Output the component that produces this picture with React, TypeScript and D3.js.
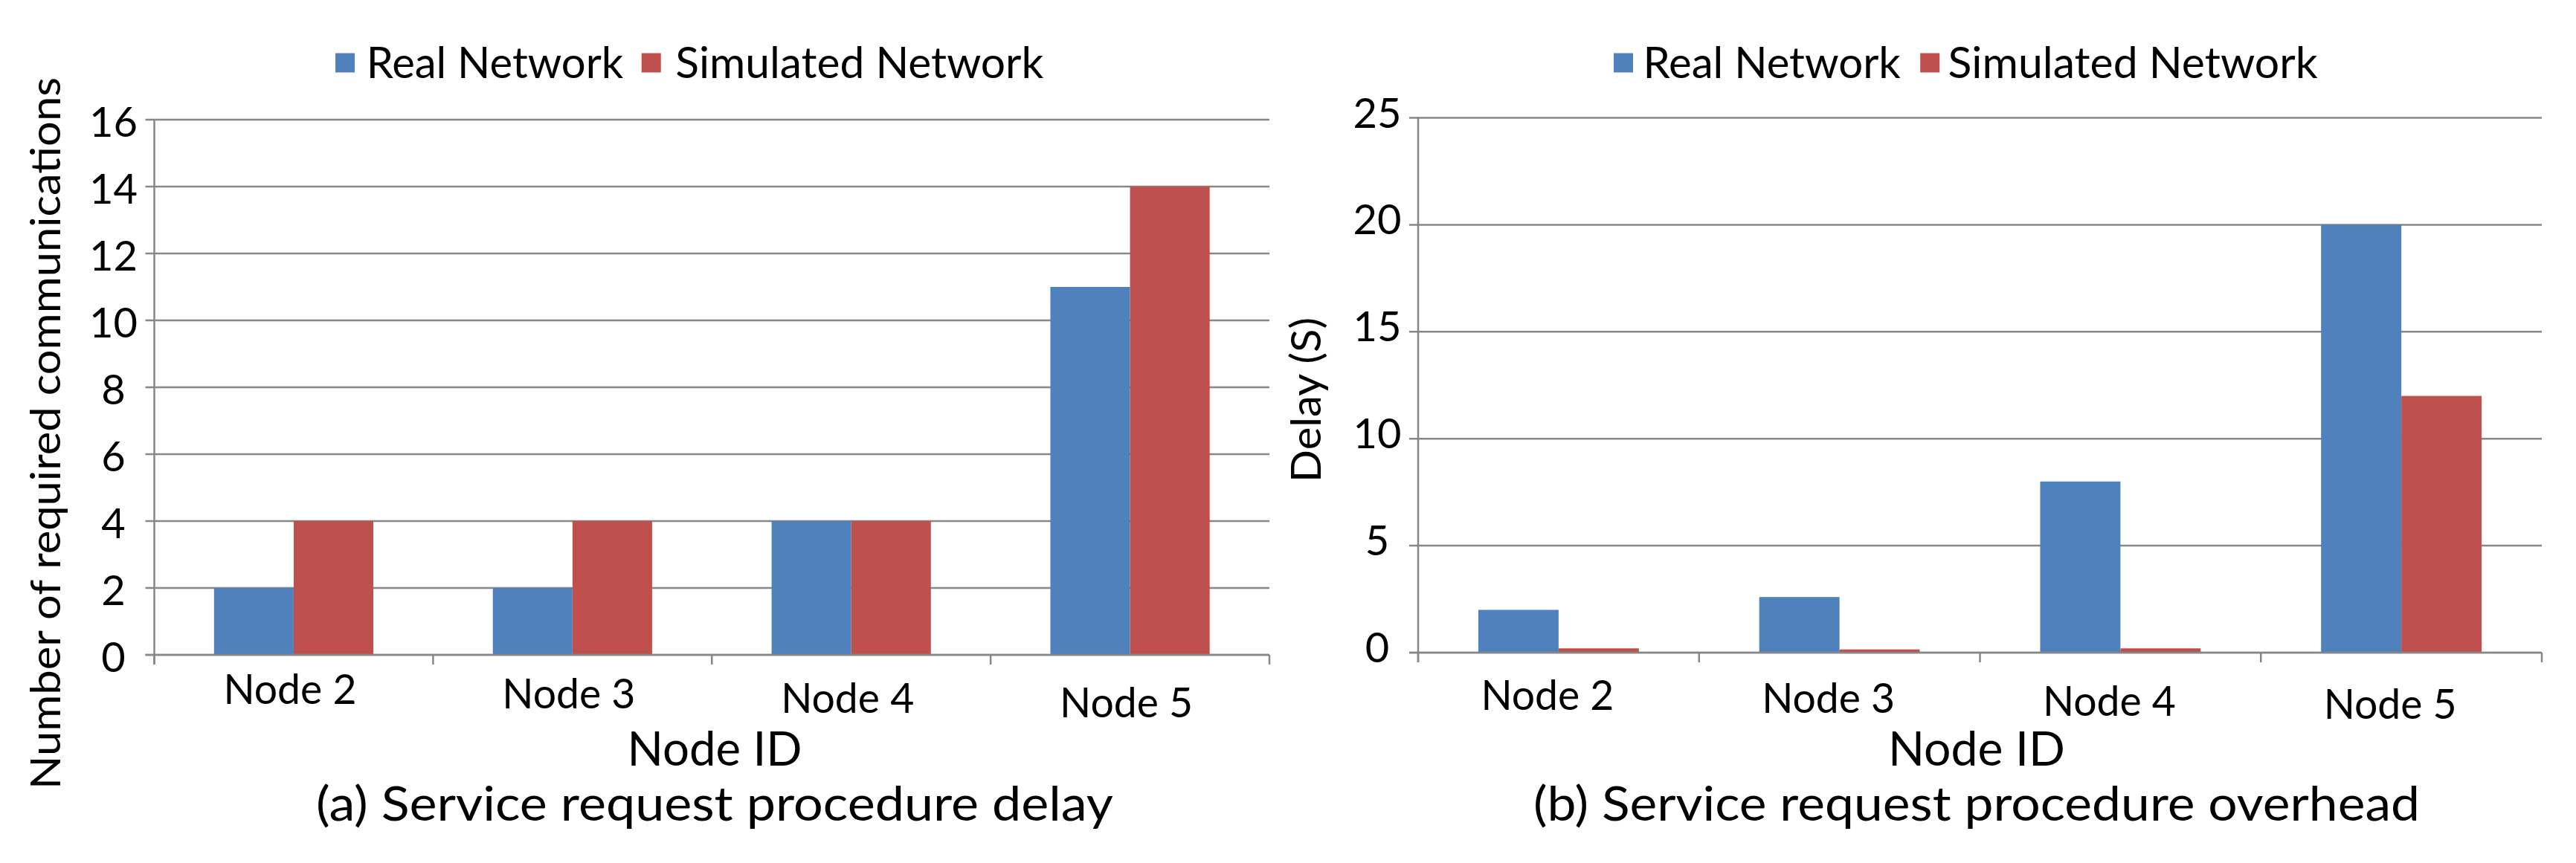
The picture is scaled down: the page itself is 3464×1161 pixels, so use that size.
import React from "react";
import * as d3 from "d3";

const nodes = ["Node 2", "Node 3", "Node 4", "Node 5"];
const seriesNames = ["Real Network", "Simulated Network"];
const seriesColors = ["#4F81BD", "#C0504D"];

const commReal = [2, 2, 4, 11];
const commSim = [4, 4, 4, 14];
const commTicks = [0, 2, 4, 6, 8, 10, 12, 14, 16];

const delayReal = [2, 2.6, 8, 20];
const delaySim = [0.2, 0.15, 0.2, 12];
const delayTicks = [0, 5, 10, 15, 20, 25];

const FONT = "Lato, 'Open Sans', 'Noto Sans', sans-serif";
const GRID = "#878787";

type PanelProps = {
  x0: number;
  x1: number;
  yTop: number;
  yBottom: number;
  ticks: number[];
  real: number[];
  sim: number[];
  tickLabelDy: number;
  catDx: number;
  catBase: number;
  catStep: number;
  yTitle: string;
  yTitleX: number;
  yTitleY: number;
  yTitleLen: number;
  caption: string;
  captionLen: number;
  captionCenter: number;
  nodeIdCenter: number;
  nodeIdLen: number;
  legendX: number[];
  legendTextX: number[];
  legendLen: number[];
};

function Panel(p: PanelProps) {
  const y = d3
    .scaleLinear()
    .domain([0, d3.max(p.ticks) as number])
    .range([p.yBottom, p.yTop]);
  const x = d3.scaleBand<string>().domain(nodes).range([p.x0, p.x1]).padding(0);
  const bw = x.bandwidth();
  const inner = d3
    .scaleBand<string>()
    .domain(seriesNames)
    .range([(bw * 0.75) / 3.5, (bw * 2.75) / 3.5])
    .padding(0);
  const data = [p.real, p.sim];
  const boundaries = nodes.map((n) => x(n) as number).concat([p.x1]);

  return (
    <g>
      {p.ticks.map((t) => (
        <line
          key={"g" + t}
          x1={p.x0 - 12}
          x2={p.x1}
          y1={y(t)}
          y2={y(t)}
          stroke={GRID}
          strokeWidth={2.5}
        />
      ))}
      {seriesNames.map((s, si) =>
        nodes.map((n, i) => (
          <rect
            key={s + n}
            x={(x(n) as number) + (inner(s) as number)}
            y={y(data[si][i])}
            width={inner.bandwidth()}
            height={y(0) - y(data[si][i])}
            fill={seriesColors[si]}
          />
        ))
      )}
      <line x1={p.x0} x2={p.x0} y1={p.yTop} y2={p.yBottom + 13} stroke={GRID} strokeWidth={2.5} />
      <line x1={p.x0 - 12} x2={p.x1} y1={y(0)} y2={y(0)} stroke={GRID} strokeWidth={2.5} />
      {boundaries.map((bx, i) => (
        <line key={"xt" + i} x1={bx} x2={bx} y1={y(0)} y2={y(0) + 13} stroke={GRID} strokeWidth={2.5} />
      ))}
      {p.ticks.map((t) => (
        <text
          key={"yl" + t}
          x={p.x0 - 55}
          y={y(t) + p.tickLabelDy}
          textAnchor="middle"
          fontFamily={FONT}
          fontSize={56}
          fill="#000"
        >
          {String(t)}
        </text>
      ))}
      {nodes.map((n, i) => (
        <text
          key={"xl" + n}
          x={(x(n) as number) + bw / 2 + p.catDx}
          y={p.catBase + i * p.catStep}
          textAnchor="middle"
          fontFamily={FONT}
          fontSize={56}
          textLength={179}
          lengthAdjust="spacingAndGlyphs"
          fill="#000"
        >
          {n}
        </text>
      ))}
      <text
        x={p.nodeIdCenter}
        y={1030}
        textAnchor="middle"
        fontFamily={FONT}
        fontSize={64}
        textLength={p.nodeIdLen}
        lengthAdjust="spacingAndGlyphs"
        fill="#000"
      >
        Node ID
      </text>
      <text
        x={p.captionCenter}
        y={1104}
        textAnchor="middle"
        fontFamily={FONT}
        fontSize={64}
        textLength={p.captionLen}
        lengthAdjust="spacingAndGlyphs"
        fill="#000"
      >
        {p.caption}
      </text>
      <text
        transform={`translate(${p.yTitleX},${p.yTitleY}) rotate(-90)`}
        textAnchor="middle"
        fontFamily={FONT}
        fontSize={56}
        textLength={p.yTitleLen}
        lengthAdjust="spacingAndGlyphs"
        fill="#000"
      >
        {p.yTitle}
      </text>
      {seriesNames.map((s, si) => (
        <g key={"lg" + s}>
          <rect x={p.legendX[si]} y={71.5} width={26} height={26} fill={seriesColors[si]} />
          <text
            x={p.legendTextX[si]}
            y={105}
            fontFamily={FONT}
            fontSize={58}
            textLength={p.legendLen[si]}
            lengthAdjust="spacingAndGlyphs"
            fill="#000"
          >
            {s}
          </text>
        </g>
      ))}
    </g>
  );
}

export default function App() {
  return (
    <svg
      width={3464}
      height={1161}
      viewBox="0 0 3464 1161"
      style={{ position: "absolute", left: 0, top: 0, background: "#fff" }}
    >
      <rect x={0} y={0} width={3464} height={1161} fill="#fff" />
      <Panel
        x0={207.5}
        x1={1707}
        yTop={161}
        yBottom={881}
        ticks={commTicks}
        real={commReal}
        sim={commSim}
        tickLabelDy={23}
        catDx={-5}
        catBase={947}
        catStep={6}
        yTitle="Number of required communications"
        yTitleX={81}
        yTitleY={583}
        yTitleLen={958}
        caption="(a) Service request procedure delay"
        captionLen={1072}
        captionCenter={961}
        nodeIdCenter={961}
        nodeIdLen={235}
        legendX={[451, 862.7]}
        legendTextX={[492.7, 908.3]}
        legendLen={[345.6, 495]}
      />
      <Panel
        x0={1907}
        x1={3418}
        yTop={158.5}
        yBottom={878}
        ticks={delayTicks}
        real={delayReal}
        sim={delaySim}
        tickLabelDy={13}
        catDx={-15}
        catBase={955}
        catStep={4}
        yTitle="Delay (S)"
        yTitleX={1776}
        yTitleY={538}
        yTitleLen={222}
        caption="(b) Service request procedure overhead"
        captionLen={1192}
        captionCenter={2658}
        nodeIdCenter={2658}
        nodeIdLen={238}
        legendX={[2170, 2582.2]}
        legendTextX={[2209.5, 2619.6]}
        legendLen={[346.3, 497]}
      />
    </svg>
  );
}
